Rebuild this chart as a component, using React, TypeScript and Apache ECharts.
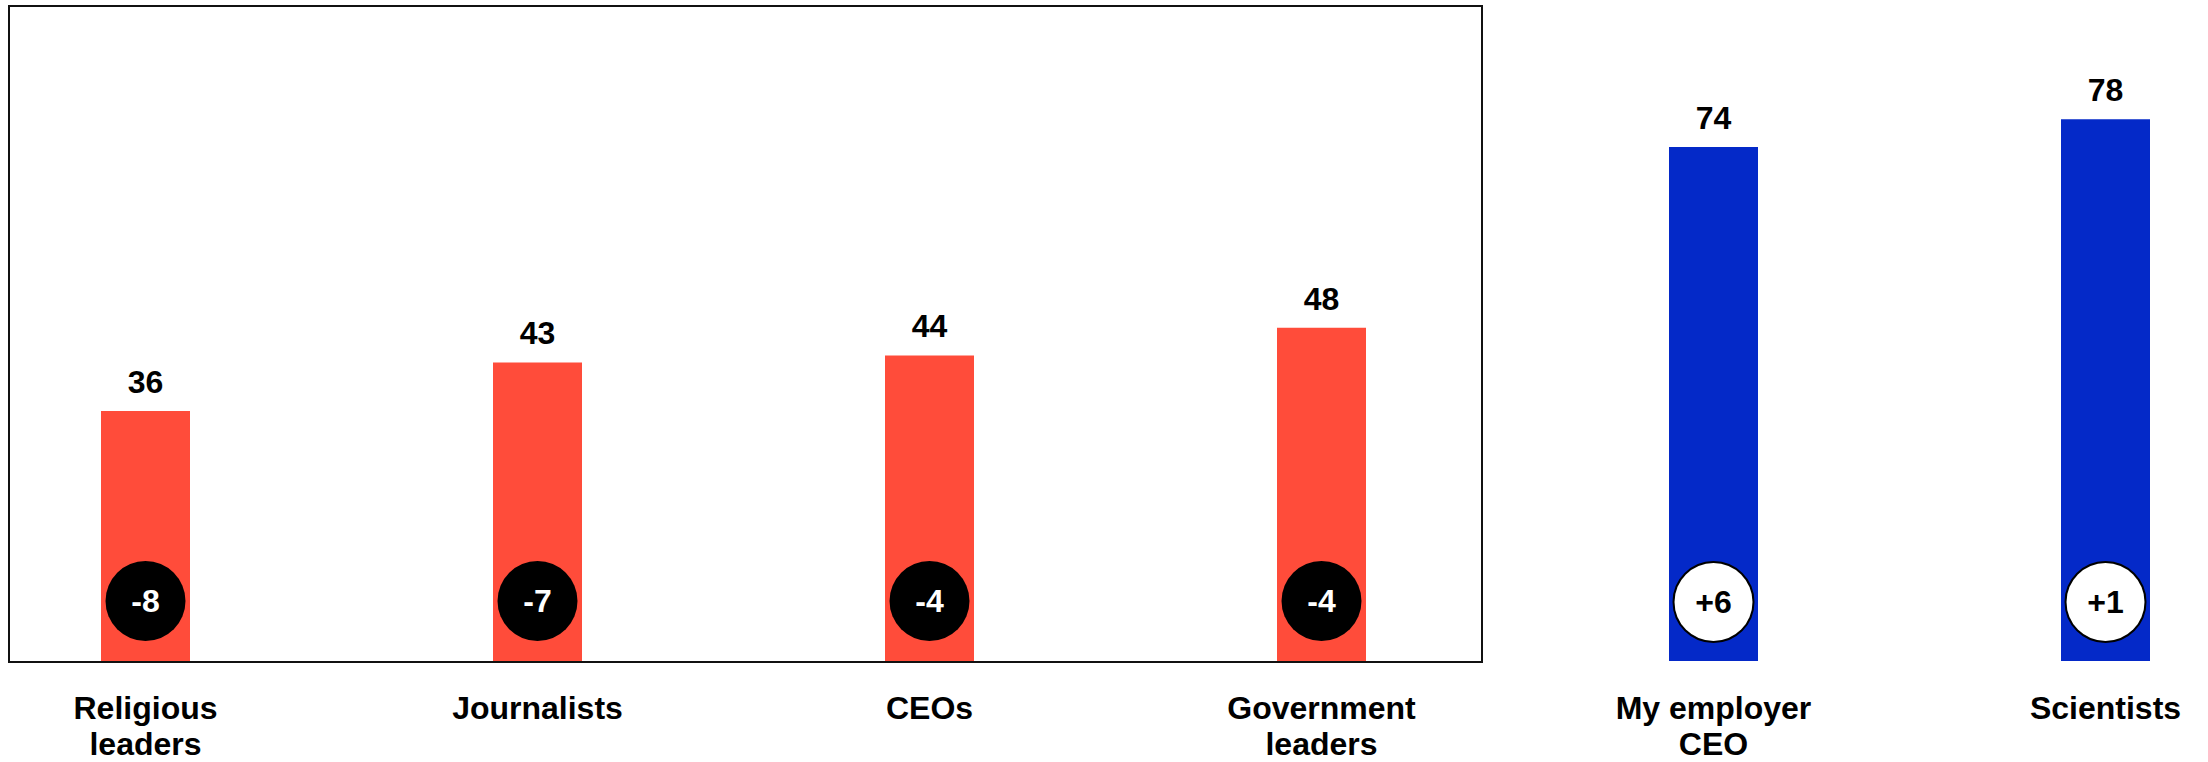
import React, { useEffect, useRef } from "react";
import * as echarts from "echarts";

const categories = ["Religious\nleaders", "Journalists", "CEOs", "Government\nleaders", "My employer\nCEO", "Scientists"];
const trustValues = [36, 43, 44, 48, 74, 78];
const changeLabels = ["-8", "-7", "-4", "-4", "+6", "+1"];
const barColors = ["#FF4C3A", "#FF4C3A", "#FF4C3A", "#FF4C3A", "#0429C8", "#0429C8"];

const FONT = "'Liberation Sans', Arial, Helvetica, sans-serif";

export default function App() {
  const ref = useRef<HTMLDivElement>(null);
  useEffect(() => {
    if (!ref.current) return;
    const chart = echarts.init(ref.current, null, { renderer: "svg" });
    chart.setOption({
      animation: false,
      backgroundColor: "#ffffff",
      textStyle: { fontFamily: FONT },
      grid: { left: 145.5, width: 1960, top: 36, bottom: 99, containLabel: false },
      xAxis: {
        type: "category",
        data: categories,
        boundaryGap: false,
        axisLine: { show: false },
        axisTick: { show: false },
        splitLine: { show: false },
        axisLabel: {
          color: "#000",
          fontFamily: FONT,
          fontWeight: "bold",
          fontSize: 32,
          lineHeight: 36,
          margin: 29,
          interval: 0,
        },
      },
      yAxis: {
        type: "value",
        min: 0,
        max: 90,
        show: false,
        splitLine: { show: false },
      },
      graphic: [
        {
          type: "rect",
          z: -10,
          shape: { x: 9, y: 6, width: 1473, height: 656 },
          style: { fill: "none", stroke: "#111", lineWidth: 2 },
          silent: true,
        },
      ],
      series: [
        {
          type: "bar",
          barWidth: 89,
          z: 2,
          data: trustValues.map((v, i) => ({ value: v, itemStyle: { color: barColors[i] } })),
          label: {
            show: true,
            position: "top",
            distance: 13,
            color: "#000",
            fontFamily: FONT,
            fontWeight: "bold",
            fontSize: 32,
          },
        },
        {
          type: "bar",
          barWidth: 89,
          barGap: "-100%",
          z: 3,
          data: trustValues.map((v, i) => ({
            value: v,
            itemStyle: { color: "rgba(0,0,0,0)" },
            label: {
              formatter: changeLabels[i].startsWith("-") ? `{neg|${changeLabels[i]}}` : `{pos|${changeLabels[i]}}`,
            },
          })),
          label: {
            show: true,
            position: "insideBottom",
            distance: 20,
            rich: {
              neg: {
                width: 80,
                height: 80,
                lineHeight: 80,
                borderRadius: 40,
                backgroundColor: "#000",
                color: "#fff",
                align: "center",
                fontSize: 32,
                fontWeight: "bold",
                fontFamily: FONT,
              },
              pos: {
                width: 78,
                height: 78,
                lineHeight: 78,
                borderRadius: 40,
                backgroundColor: "#fff",
                borderColor: "#000",
                borderWidth: 2,
                color: "#000",
                align: "center",
                fontSize: 32,
                fontWeight: "bold",
                fontFamily: FONT,
              },
            },
          },
        },
      ],
    });
    return () => chart.dispose();
  }, []);
  return (
    <div
      ref={ref}
      style={{ position: "fixed", left: 0, top: 0, width: 2208, height: 762, background: "#fff" }}
    />
  );
}
